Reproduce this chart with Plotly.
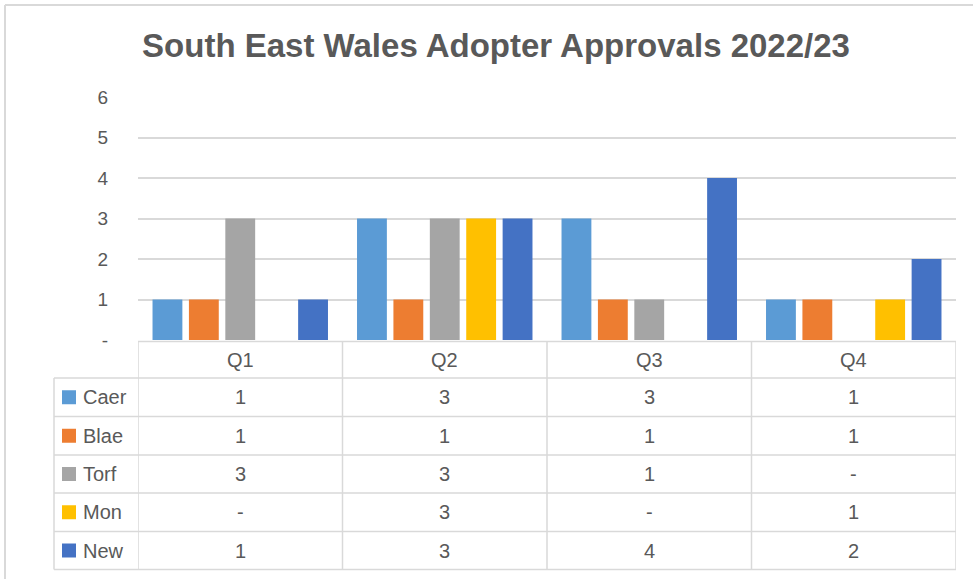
import plotly.graph_objects as go

quarters = ["Q1", "Q2", "Q3", "Q4"]
series_names = ["Caer", "Blae", "Torf", "Mon", "New"]
caer = [1, 3, 3, 1]
blae = [1, 1, 1, 1]
torf = [3, 3, 1, 0]
mon = [0, 3, 0, 1]
new = [1, 3, 4, 2]
series_values = [caer, blae, torf, mon, new]
colors = ["#5B9BD5", "#ED7D31", "#A5A5A5", "#FFC000", "#4472C4"]
y_tick_vals = [0, 1, 2, 3, 4, 5, 6]
y_tick_text = ["-", "1", "2", "3", "4", "5", "6"]
title_text = "South East Wales Adopter Approvals 2022/23"

W, H = 973, 579
PLOT_L, PLOT_R = 138, 956
PLOT_T, PLOT_B = 97, 340
TXT = "#595959"
GRID = "#D9D9D9"
FONT = "Liberation Sans, Arial, sans-serif"


def py(p):
    # convert pixel y to paper y
    return (PLOT_B - p) / (PLOT_B - PLOT_T)


def px(p):
    return (p - PLOT_L) / (PLOT_R - PLOT_L)


fig = go.Figure()
for name, vals, col in zip(series_names, series_values, colors):
    fig.add_trace(go.Bar(name=name, x=quarters, y=vals, marker=dict(color=col, line=dict(width=0)),
                         showlegend=False, hoverinfo="x+y+name"))

shapes = []
annotations = []

# Outer chart border (partially visible)
shapes.append(dict(type="line", xref="paper", yref="paper", x0=px(5), x1=px(980), y0=py(5), y1=py(5),
                   line=dict(color=GRID, width=2)))
shapes.append(dict(type="line", xref="paper", yref="paper", x0=px(5), x1=px(5), y0=py(5), y1=py(585),
                   line=dict(color=GRID, width=2)))

row_bounds = [341.5, 378, 416.5, 455, 493, 531.5, 569.5]
LABEL_L = 54
line_style = dict(color=GRID, width=1.5)
TFS = 20

# header top line
shapes.append(dict(type="line", xref="paper", yref="paper", x0=0, x1=1, y0=py(row_bounds[0]), y1=py(row_bounds[0]),
                   line=line_style))
# row lines
for rb in row_bounds[1:]:
    shapes.append(dict(type="line", xref="paper", yref="paper", x0=px(LABEL_L), x1=1, y0=py(rb), y1=py(rb),
                       line=line_style))
# vertical lines between quarter columns
for i in range(len(quarters) + 1):
    shapes.append(dict(type="line", xref="x", yref="paper", x0=i - 0.5, x1=i - 0.5,
                       y0=py(row_bounds[0]), y1=py(row_bounds[-1]), line=line_style))
# label column left line
shapes.append(dict(type="line", xref="paper", yref="paper", x0=px(LABEL_L), x1=px(LABEL_L),
                   y0=py(row_bounds[1]), y1=py(row_bounds[-1]), line=line_style))

# header labels
for i, q in enumerate(quarters):
    annotations.append(dict(xref="x", yref="paper", x=i, y=py((row_bounds[0] + row_bounds[1]) / 2), text=q,
                            showarrow=False, font=dict(family=FONT, size=TFS, color=TXT),
                            xanchor="center", yanchor="middle"))

# data rows
for r, (name, vals, col) in enumerate(zip(series_names, series_values, colors)):
    yc = (row_bounds[r + 1] + row_bounds[r + 2]) / 2
    shapes.append(dict(type="rect", xref="paper", yref="paper", x0=px(62), x1=px(76),
                       y0=py(yc - 7), y1=py(yc + 7), fillcolor=col, line=dict(width=0)))
    annotations.append(dict(xref="paper", yref="paper", x=px(81), y=py(yc), text=name, showarrow=False,
                            font=dict(family=FONT, size=TFS, color=TXT), xanchor="left", yanchor="middle"))
    for i, v in enumerate(vals):
        annotations.append(dict(xref="x", yref="paper", x=i, y=py(yc), text=str(v) if v else "-",
                                showarrow=False, font=dict(family=FONT, size=TFS, color=TXT),
                                xanchor="center", yanchor="middle"))

fig.update_layout(
    width=W, height=H,
    margin=dict(l=PLOT_L, r=W - PLOT_R, t=PLOT_T, b=H - PLOT_B, pad=0),
    paper_bgcolor="white", plot_bgcolor="white",
    barmode="group", bargap=0.11, bargroupgap=0.18,
    title=dict(text="<b>" + title_text + "</b>", x=496 / W, xref="container", xanchor="center",
               y=1 - 45 / H, yref="container", yanchor="middle", font=dict(family=FONT, size=33, color=TXT)),
    xaxis=dict(range=[-0.5, 3.5], showticklabels=False, showgrid=False, zeroline=False, showline=False,
               fixedrange=True),
    yaxis=dict(range=[0, 6], tickvals=y_tick_vals, ticktext=y_tick_text, showgrid=True, gridcolor=GRID,
               gridwidth=1.5, zeroline=False, showline=False, ticks="", ticklabelstandoff=29,
               tickfont=dict(family=FONT, size=19, color=TXT), fixedrange=True),
    shapes=shapes,
    annotations=annotations,
)

fig.write_html("out.html", config={"displayModeBar": False},
               post_script="document.body.style.margin='0';document.body.style.overflow='hidden';")
